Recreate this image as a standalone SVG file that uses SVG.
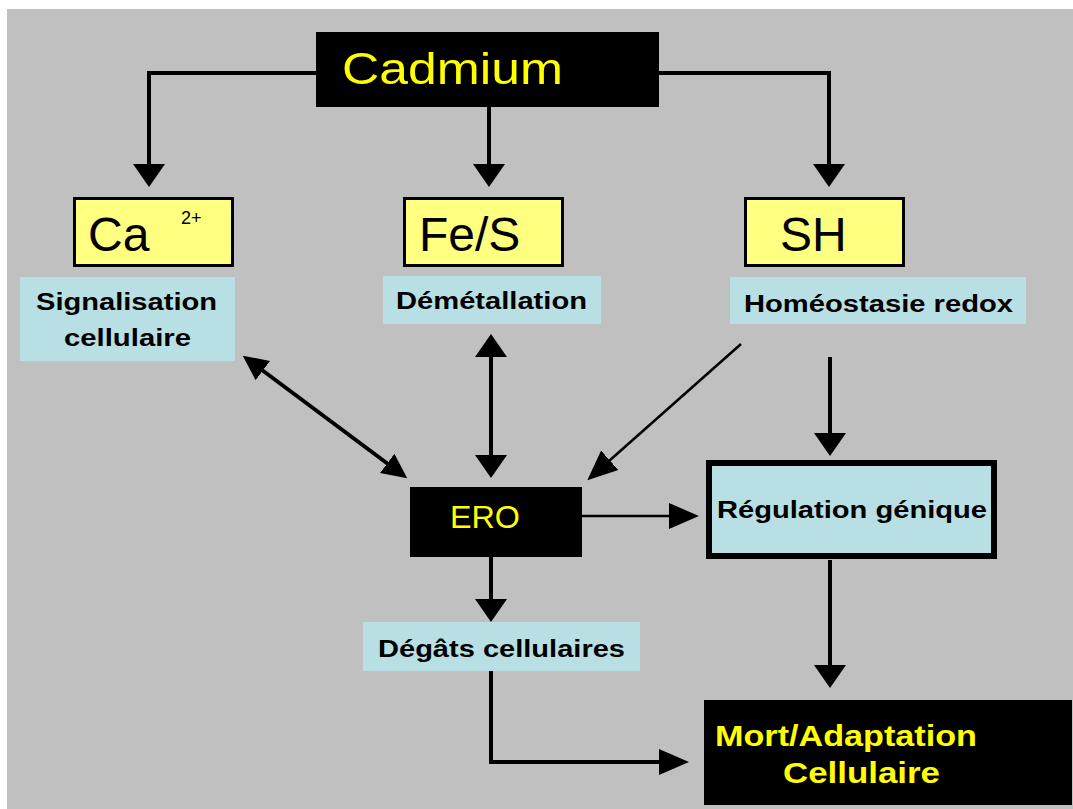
<svg xmlns="http://www.w3.org/2000/svg" width="1073" height="809" viewBox="0 0 1073 809">
<defs>
<style>
.bg{fill:#c0c0c0}
.blk{fill:#000}
.yel{fill:#ffff80;stroke:#000;stroke-width:3}
.blue{fill:#b8dfe3}
.t{font-family:"Liberation Sans",Arial,sans-serif}
.ty{fill:#ffff00}
.tb{fill:#000;font-weight:bold;font-size:23px}
.c{fill:none;stroke:#000;stroke-width:4}
.cn{fill:none;stroke:#000;stroke-width:2.5}
</style>
<marker id="big" markerUnits="userSpaceOnUse" markerWidth="24" markerHeight="34" viewBox="0 0 24 34" refX="1" refY="17" orient="auto-start-reverse"><path d="M0,1 L23,17 L0,33 z" fill="#000"/></marker>
<marker id="mid" markerUnits="userSpaceOnUse" markerWidth="26" markerHeight="28" viewBox="0 0 26 28" refX="1" refY="14" orient="auto-start-reverse"><path d="M0,2 L25,14 L0,26 z" fill="#000"/></marker>
<marker id="thin" markerUnits="userSpaceOnUse" markerWidth="31" markerHeight="30" viewBox="0 0 31 30" refX="1" refY="15" orient="auto"><path d="M0,2 L30,15 L0,28 z" fill="#000"/></marker>
</defs>
<rect class="bg" x="7" y="9" width="1066" height="800"/>

<g id="connectors">
<path class="c" d="M316,73 H149 V165" marker-end="url(#big)"/>
<path class="c" d="M489,107 V165" marker-end="url(#big)"/>
<path class="c" d="M659,73 H829 V165" marker-end="url(#big)"/>
<path class="c" d="M262,370 L388,464" marker-start="url(#mid)" marker-end="url(#mid)"/>
<path class="c" d="M491,356 V456" marker-start="url(#big)" marker-end="url(#big)"/>
<path class="cn" d="M741,344 L609,461" marker-end="url(#thin)"/>
<path class="c" d="M830,357 V434" marker-end="url(#big)"/>
<path class="cn" d="M582,516 H670" marker-end="url(#thin)"/>
<path class="c" d="M491,557 V600" marker-end="url(#big)"/>
<path class="c" d="M830,560 V666" marker-end="url(#big)"/>
<path class="c" d="M491,671 V762 H660" marker-end="url(#thin)"/>
</g>

<g id="cadmium">
<rect class="blk" x="316" y="32" width="343" height="75"/>
<text class="t ty" x="342" y="84" font-size="45" textLength="221" lengthAdjust="spacingAndGlyphs">Cadmium</text>
</g>

<g id="ca">
<rect class="yel" x="74.5" y="198.5" width="158" height="67"/>
<text class="t" x="88" y="251" font-size="48" fill="#000">Ca</text>
<text class="t" x="181" y="224" font-size="18" fill="#000">2+</text>
</g>

<g id="fes">
<rect class="yel" x="404.5" y="198.5" width="158" height="67"/>
<text class="t" x="419" y="251" font-size="48" fill="#000">Fe/S</text>
</g>

<g id="sh">
<rect class="yel" x="745.5" y="198.5" width="158" height="67"/>
<text class="t" x="780" y="251" font-size="48" fill="#000">SH</text>
</g>

<g id="signalisation">
<rect class="blue" x="20" y="277" width="215" height="84"/>
<text class="t tb" x="36" y="310" textLength="181" lengthAdjust="spacingAndGlyphs">Signalisation</text>
<text class="t tb" x="64" y="346" textLength="127" lengthAdjust="spacingAndGlyphs">cellulaire</text>
</g>

<g id="demetallation">
<rect class="blue" x="383" y="276" width="218" height="48"/>
<text class="t tb" x="396" y="309" textLength="191" lengthAdjust="spacingAndGlyphs">Démétallation</text>
</g>

<g id="homeostasie">
<rect class="blue" x="730" y="277" width="296" height="47"/>
<text class="t tb" x="744" y="312" textLength="269" lengthAdjust="spacingAndGlyphs">Homéostasie redox</text>
</g>

<g id="ero">
<rect class="blk" x="410" y="487" width="172" height="70"/>
<text class="t ty" x="450" y="528" font-size="31" textLength="70" lengthAdjust="spacingAndGlyphs">ERO</text>
</g>

<g id="regulation">
<rect x="709" y="463" width="285" height="93" fill="#b8dfe3" stroke="#000" stroke-width="6"/>
<text class="t tb" x="717" y="518" font-size="24" textLength="270" lengthAdjust="spacingAndGlyphs">Régulation génique</text>
</g>

<g id="degats">
<rect class="blue" x="363" y="622" width="277" height="49"/>
<text class="t tb" x="378" y="657" textLength="247" lengthAdjust="spacingAndGlyphs">Dégâts cellulaires</text>
</g>

<g id="mort">
<rect class="blk" x="704" y="700" width="368" height="105"/>
<text class="t ty" x="715" y="746" font-size="29" font-weight="bold" textLength="262" lengthAdjust="spacingAndGlyphs">Mort/Adaptation</text>
<text class="t ty" x="783" y="783" font-size="29" font-weight="bold" textLength="157" lengthAdjust="spacingAndGlyphs">Cellulaire</text>
</g>
</svg>
